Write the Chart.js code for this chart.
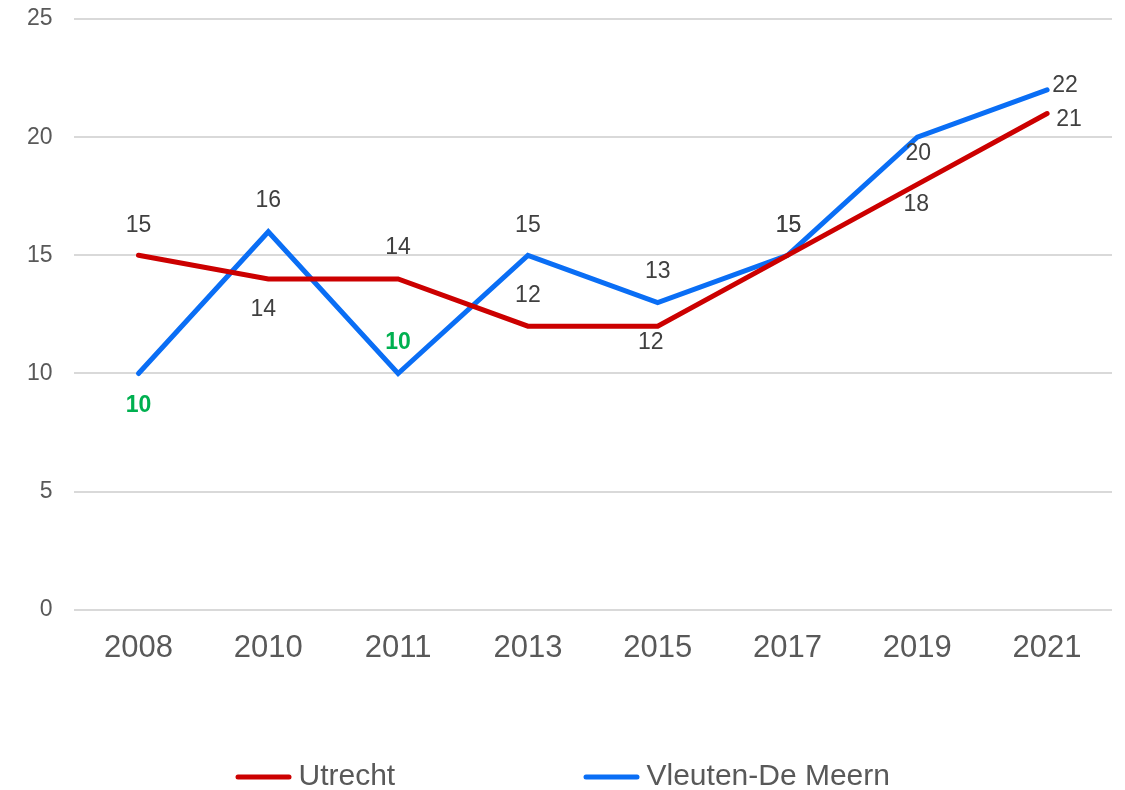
<!DOCTYPE html>
<html>
<head>
<meta charset="utf-8">
<script src="https://cdn.jsdelivr.net/npm/chart.js@4"></script>
<style>
  html, body { margin: 0; padding: 0; background: #fff; }
</style>
</head>
<body>
<canvas id="myChart" width="1125" height="790"></canvas>
<script>
var years = ["2008", "2010", "2011", "2013", "2015", "2017", "2019", "2021"];
var utrecht = [15, 14, 14, 12, 12, 15, 18, 21];
var vleuten = [10, 16, 10, 15, 13, 15, 20, 22];
var seriesNames = ["Utrecht", "Vleuten-De Meern"];

// where each value label sits relative to its point (dx, dy)
var utrechtLabelPos = [[0, -30], [-5, 31], [0, -31], [0, -31], [-7, 16], [1, -30], [-1, 20], [22, 6]];
var vleutenLabelPos = [[0, 32], [0, -31], [0, -31], [0, -30], [0, -31], [1, -30], [1, 16], [18, -4]];
var vleutenHighlight = [0, 2];

var FONT = '"Liberation Sans", Arial, sans-serif';
Chart.defaults.font.family = FONT;

var valueLabels = {
  id: 'valueLabels',
  afterDatasetsDraw: function(chart) {
    var ctx = chart.ctx;
    ctx.save();
    ctx.textAlign = 'center';
    ctx.textBaseline = 'middle';
    chart.data.datasets.forEach(function(ds, d) {
      var meta = chart.getDatasetMeta(d);
      meta.data.forEach(function(pt, i) {
        var off = ds.labelPos[i];
        var hot = (ds.highlight || []).indexOf(i) >= 0;
        ctx.font = (hot ? 'bold ' : '') + '23px ' + FONT;
        ctx.fillStyle = hot ? '#00B050' : '#404040';
        ctx.fillText(ds.data[i], pt.x + off[0], pt.y + off[1]);
      });
    });
    ctx.restore();
  }
};

var bottomLegend = {
  id: 'bottomLegend',
  afterDraw: function(chart, args, opts) {
    var ctx = chart.ctx;
    ctx.save();
    ctx.font = '30px ' + FONT;
    ctx.textBaseline = 'middle';
    ctx.textAlign = 'left';
    chart.data.datasets.forEach(function(ds, d) {
      var x = opts.left + d * opts.spacing;
      ctx.strokeStyle = ds.borderColor;
      ctx.lineWidth = 5;
      ctx.lineCap = 'round';
      ctx.beginPath();
      ctx.moveTo(x, opts.y);
      ctx.lineTo(x + opts.sample, opts.y);
      ctx.stroke();
      ctx.fillStyle = '#595959';
      ctx.fillText(ds.label, x + opts.sample + opts.gap, opts.y);
    });
    ctx.restore();
  }
};

new Chart("myChart", {
  type: "line",
  data: {
    labels: years,
    datasets: [{
      label: seriesNames[0],
      data: utrecht,
      borderColor: "#CC0000",
      backgroundColor: "#CC0000",
      borderWidth: 5,
      borderCapStyle: "round",
      pointRadius: 0,
      tension: 0,
      labelPos: utrechtLabelPos
    }, {
      label: seriesNames[1],
      data: vleuten,
      borderColor: "#0A6EF5",
      backgroundColor: "#0A6EF5",
      borderWidth: 5,
      borderCapStyle: "round",
      pointRadius: 0,
      tension: 0,
      labelPos: vleutenLabelPos,
      highlight: vleutenHighlight
    }]
  },
  options: {
    responsive: false,
    animation: false,
    layout: { autoPadding: false, padding: { left: 27, right: 13, top: 19, bottom: 103 } },
    plugins: {
      legend: { display: false },
      tooltip: { enabled: false },
      bottomLegend: { left: 238, spacing: 348, sample: 51, gap: 9.5, y: 777 }
    },
    scales: {
      x: {
        offset: true,
        grid: { display: false, drawTicks: false },
        border: { display: false },
        ticks: { color: "#595959", font: { size: 31 }, padding: 20, maxRotation: 0, autoSkip: false }
      },
      y: {
        min: 0,
        max: 25,
        // blank tick marks keep a gap between the labels and the plot
        grid: { color: "#D9D9D9", lineWidth: 2, drawTicks: true, tickLength: 21, tickColor: "rgba(0,0,0,0)" },
        border: { display: false },
        ticks: { stepSize: 5, color: "#595959", font: { size: 23 }, padding: 0 }
      }
    }
  },
  plugins: [valueLabels, bottomLegend]
});
</script>
</body>
</html>
